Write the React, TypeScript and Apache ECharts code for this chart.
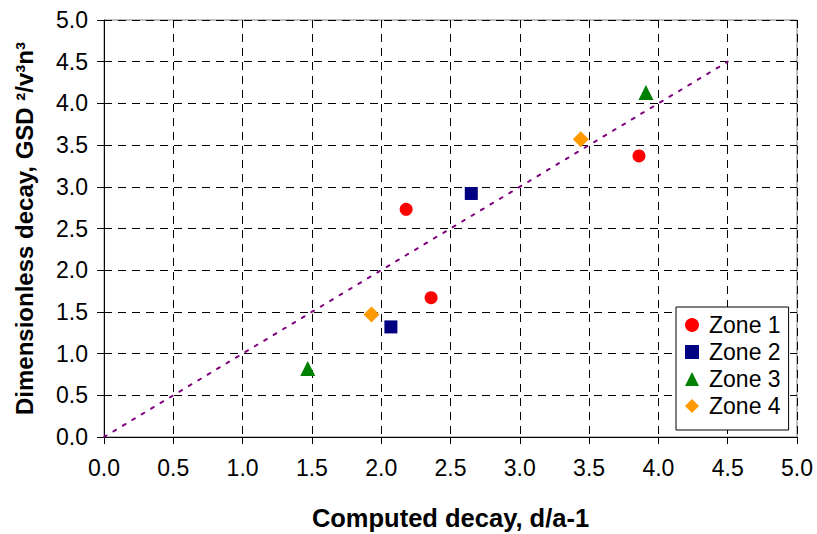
import React, { useEffect, useRef } from "react";
import * as echarts from "echarts";

const zone1: number[][] = [[2.18, 2.73], [2.36, 1.67], [3.86, 3.37]];
const zone2: number[][] = [[2.07, 1.32], [2.65, 2.92]];
const zone3: number[][] = [[1.47, 0.82], [3.91, 4.13]];
const zone4: number[][] = [[1.93, 1.47], [3.44, 3.57]];
const refLine: number[][] = [[0, 0], [4.5, 4.5]];
const seriesNames = ["Zone 1", "Zone 2", "Zone 3", "Zone 4"];

const FONT = "Liberation Sans";

export default function App() {
  const ref = useRef<HTMLDivElement>(null);
  useEffect(() => {
    if (!ref.current) return;
    const chart = echarts.init(ref.current, null, { renderer: "svg" });
    const axisCommon = {
      type: "value" as const,
      min: 0,
      max: 5,
      interval: 0.5,
      axisLine: { show: true, lineStyle: { color: "#000", width: 1 } },
      axisTick: { show: true, inside: false, length: 7, lineStyle: { color: "#000" } },
      axisLabel: {
        color: "#000",
        fontSize: 23,
        fontFamily: FONT,
        formatter: (v: number) => v.toFixed(1),
      },
      splitLine: { show: true, lineStyle: { color: "#000", type: [8, 6] as any, width: 1 } },
      nameTextStyle: { color: "#000", fontSize: 24, fontWeight: "bold" as const, fontFamily: FONT },
    };
    chart.setOption({
      animation: false,
      backgroundColor: "#fff",
      textStyle: { fontFamily: FONT },
      grid: {
        left: 104,
        right: 20,
        top: 20,
        bottom: 97,
        show: true,
        borderColor: "#808080",
        borderWidth: 1,
        containLabel: false,
        outerBoundsMode: "none",
      },
      xAxis: {
        ...axisCommon,
        name: "Computed decay, d/a-1",
        nameLocation: "middle",
        nameGap: 68,
        nameTextStyle: { ...axisCommon.nameTextStyle, fontSize: 25.5 },
        axisLabel: { ...axisCommon.axisLabel, margin: 19 },
      },
      yAxis: {
        ...axisCommon,
        name: "Dimensionless decay, GSD ²/v³n³",
        nameLocation: "middle",
        nameGap: 68,
        axisLabel: { ...axisCommon.axisLabel, margin: 16 },
      },
      legend: {
        orient: "vertical",
        left: 676,
        top: 307,
        data: seriesNames,
        backgroundColor: "#fff",
        borderColor: "#000",
        borderWidth: 1,
        borderRadius: 0,
        padding: [6, 8, 12, 9],
        itemGap: 3,
        itemWidth: 14,
        itemHeight: 14,
        textStyle: { color: "#000", fontSize: 23, fontFamily: FONT, lineHeight: 24, padding: [0, 0, 0, 5] },
      },
      series: [
        {
          name: "ref",
          type: "line",
          data: refLine,
          symbol: "none",
          lineStyle: { color: "#800080", width: 2, type: [3, 8] as any, cap: "round" },
          silent: true,
          z: 3,
        },
        {
          name: seriesNames[0],
          type: "scatter",
          data: zone1,
          symbol: "circle",
          symbolSize: 13,
          itemStyle: { color: "#FF0000", opacity: 1 },
          z: 5,
        },
        {
          name: seriesNames[1],
          type: "scatter",
          data: zone2,
          symbol: "rect",
          symbolSize: 13,
          itemStyle: { color: "#000080", opacity: 1 },
          z: 5,
        },
        {
          name: seriesNames[2],
          type: "scatter",
          data: zone3,
          symbol: "triangle",
          symbolSize: 15,
          itemStyle: { color: "#008000", opacity: 1 },
          z: 5,
        },
        {
          name: seriesNames[3],
          type: "scatter",
          data: zone4,
          symbol: "diamond",
          symbolSize: 16,
          itemStyle: { color: "#FF9900", opacity: 1 },
          z: 5,
        },
      ],
    });
    return () => chart.dispose();
  }, []);
  return <div ref={ref} style={{ width: 817, height: 534, position: "absolute", left: 0, top: 0 }} />;
}
